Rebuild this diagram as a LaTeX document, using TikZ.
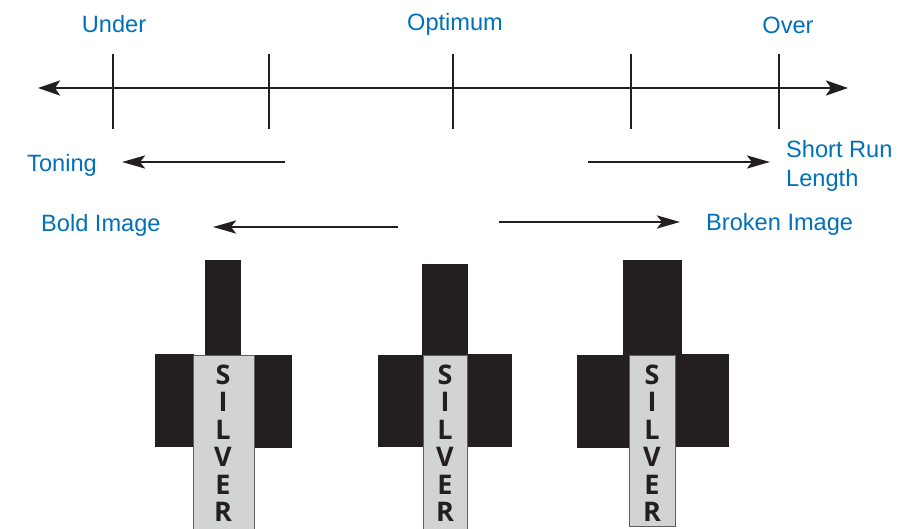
\documentclass[tikz,border=0pt]{standalone}
\usepackage{fontspec}
\setmainfont{Liberation Sans}
\newfontfamily\silverfont{Open Sans}
\usetikzlibrary{arrows.meta}
\definecolor{lblblue}{RGB}{0,112,186}
\definecolor{inkblack}{RGB}{35,31,32}
\definecolor{silvergray}{RGB}{209,211,212}
\definecolor{silveredge}{RGB}{95,95,95}
\tikzset{
  lbl/.style={text=lblblue, font=\fontsize{23.6}{28}\selectfont, inner sep=0pt},
  axisline/.style={line width=2.8pt, draw=inkblack, {Stealth[length=22pt,width=15pt,inset=5pt]}-{Stealth[length=22pt,width=15pt,inset=5pt]}},
  tickmark/.style={line width=2.8pt, draw=inkblack},
  dirarrow/.style={line width=2.6pt, draw=inkblack, -{Stealth[length=23pt,width=13pt,inset=5pt]}},
  blk/.style={fill=inkblack, draw=none},
  silverbar/.style={fill=silvergray, draw=silveredge, line width=0.9pt},
  letter/.style={font=\silverfont\bfseries\fontsize{27}{28}\selectfont, text=inkblack, inner sep=0pt, anchor=base}
}
\begin{document}
\begin{tikzpicture}[x=1pt,y=-1pt]
\useasboundingbox (0,0) rectangle (912,529);
% axis
\coordinate (axL) at (38,88);
\coordinate (axR) at (848,88);
\draw[axisline] (axL) -- (axR);
\foreach \n/\x in {t1/113,t2/269,t3/453,t4/631,t5/779}{
  \coordinate (\n top) at (\x,54);
  \coordinate (\n bot) at (\x,129);
  \draw[tickmark] (\n top) -- (\n bot);
}
% top labels
\node[lbl, anchor=base] (under) at (114,33) {Under};
\node[lbl, anchor=base] (optimum) at (455,31) {Optimum};
\node[lbl, anchor=base] (over) at (788,34) {Over};
% side labels
\node[lbl, anchor=base west] (toning) at (27,172) {Toning};
\node[lbl, anchor=base west] (bold) at (41,232) {Bold Image};
\node[lbl, anchor=base west] (short) at (786,158) {Short Run};
\node[lbl, anchor=base west] (length) at (786,187) {Length};
\node[lbl, anchor=base west] (broken) at (706,231) {Broken Image};
% direction arrows
\coordinate (a1s) at (285,162); \coordinate (a1e) at (122,162);
\coordinate (a2s) at (398,227); \coordinate (a2e) at (213,227);
\coordinate (a3s) at (588,162); \coordinate (a3e) at (770,162);
\coordinate (a4s) at (499,222); \coordinate (a4e) at (680,222);
\draw[dirarrow] (a1s) -- (a1e);
\draw[dirarrow] (a2s) -- (a2e);
\draw[dirarrow] (a3s) -- (a3e);
\draw[dirarrow] (a4s) -- (a4e);
% figure 1
\fill[blk] (205,260) rectangle (241,356);
\fill[blk] (155,354) rectangle (194,447);
\fill[blk] (253,355) rectangle (292,448);
\draw[silverbar] (193,355) rectangle (254,535);
% figure 2
\fill[blk] (422,264) rectangle (468,356);
\fill[blk] (378,355) rectangle (424,447);
\fill[blk] (466,354) rectangle (512,447);
\draw[silverbar] (423,355) rectangle (467,535);
% figure 3
\fill[blk] (623,260) rectangle (682,356);
\fill[blk] (577,355) rectangle (630,448);
\fill[blk] (674,354) rectangle (729,447);
\draw[silverbar] (629,355) rectangle (675,526);
% letters
\foreach \f/\cx in {a/223,b/445,c/652}{
  \foreach \l/\i in {S/0,I/1,L/2,V/3,E/4,R/5}{
    \node[letter] (\f\l) at (\cx,384+27.5*\i) {\l};
  }
}
\end{tikzpicture}
\end{document}
